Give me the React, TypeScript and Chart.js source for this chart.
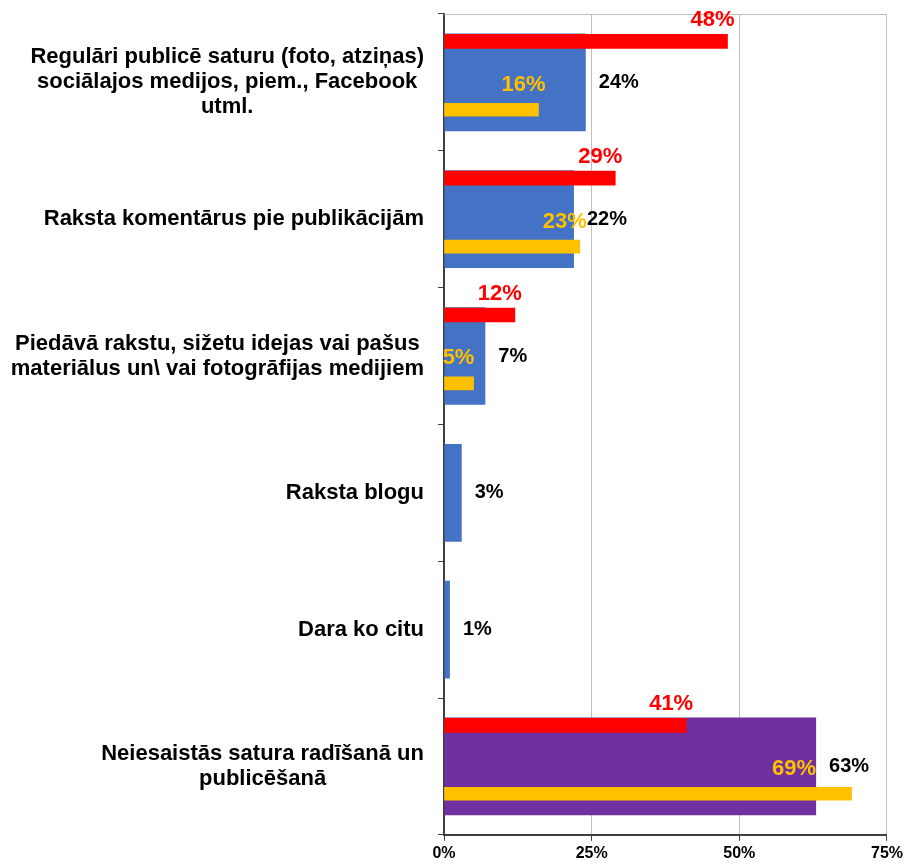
import React, { useEffect, useRef } from "react";
import { Chart, registerables } from "chart.js";

Chart.register(...registerables);

const CATEGORIES: string[][] = [
  ["Regulāri publicē saturu (foto, atziņas)", "sociālajos medijos, piem., Facebook", "utml."],
  ["Raksta komentārus pie publikācijām"],
  ["Piedāvā rakstu, sižetu idejas vai pašus", "materiālus un\\ vai fotogrāfijas medijiem"],
  ["Raksta blogu"],
  ["Dara ko citu "],
  ["Neiesaistās satura radīšanā un", "publicēšanā"],
];
const BLUE_VALUES = [24, 22, 7, 3, 1, 63];
const RED_VALUES: (number | null)[] = [48, 29, 12, null, null, 41];
const YELLOW_VALUES: (number | null)[] = [16, 23, 5, null, null, 69];
const X_TICKS = [0, 25, 50, 75];

const BLUE = "#4472C4";
const PURPLE = "#7030A0";
const RED = "#FF0000";
const YELLOW = "#FFC000";
const RED_OFFSET = -0.3;
const YELLOW_OFFSET = 0.2;
const FONT = "'Liberation Sans', Arial, sans-serif";

export default function App() {
  const ref = useRef<HTMLCanvasElement | null>(null);

  useEffect(() => {
    document.body.style.margin = "0";
    const canvas = ref.current;
    if (!canvas) return;

    const redPts = RED_VALUES.map((v, i) => (v == null ? null : { x: v, y: i + RED_OFFSET, cat: i })).filter(Boolean);
    const yellowPts = YELLOW_VALUES.map((v, i) => (v == null ? null : { x: v, y: i + YELLOW_OFFSET, cat: i })).filter(Boolean);

    const yLabelPlugin = {
      id: "yLabels",
      afterDraw(chart: any) {
        const ctx = chart.ctx;
        const yScale = chart.scales.y;
        const right = chart.chartArea.left - 20;
        ctx.save();
        ctx.font = `bold 22px ${FONT}`;
        ctx.fillStyle = "#000";
        ctx.textAlign = "center";
        ctx.textBaseline = "middle";
        CATEGORIES.forEach((lines, i) => {
          const cy = yScale.getPixelForValue(i);
          const maxW = Math.max(...lines.map((l) => ctx.measureText(l.trimEnd()).width));
          const cx = right - maxW / 2;
          lines.forEach((line, j) => {
            ctx.fillText(line.trimEnd(), cx, cy + (j - (lines.length - 1) / 2) * 25);
          });
        });
        ctx.restore();
      },
    };

    const framePlugin = {
      id: "frame",
      beforeDatasetsDraw(chart: any) {
        const { ctx, chartArea } = chart;
        ctx.save();
        ctx.strokeStyle = "#BFBFBF";
        ctx.lineWidth = 1;
        ctx.beginPath();
        ctx.moveTo(chartArea.left, chartArea.top + 0.5);
        ctx.lineTo(chartArea.right, chartArea.top + 0.5);
        ctx.stroke();
        ctx.restore();
      },
    };

    const valueLabelPlugin = {
      id: "valueLabels",
      afterDatasetsDraw(chart: any) {
        const ctx = chart.ctx;
        ctx.save();
        ctx.textBaseline = "middle";
        const blueMeta = chart.getDatasetMeta(0);
        ctx.font = `bold 20px ${FONT}`;
        ctx.fillStyle = "#000";
        ctx.textAlign = "left";
        blueMeta.data.forEach((el: any, i: number) => {
          ctx.fillText(BLUE_VALUES[i] + "%", el.x + 13, el.y);
        });
        ctx.font = `bold 22px ${FONT}`;
        const redMeta = chart.getDatasetMeta(1);
        ctx.fillStyle = RED;
        ctx.textAlign = "center";
        redMeta.data.forEach((el: any, j: number) => {
          const p: any = chart.data.datasets[1].data[j];
          ctx.fillText(p.x + "%", el.x - 15, el.y - 21);
        });
        const yMeta = chart.getDatasetMeta(2);
        ctx.fillStyle = YELLOW;
        yMeta.data.forEach((el: any, j: number) => {
          const p: any = chart.data.datasets[2].data[j];
          const blueEl = blueMeta.data[p.cat];
          if (p.x > BLUE_VALUES[p.cat] + 3) {
            ctx.textAlign = "right";
            ctx.fillText(p.x + "%", blueEl.x, el.y - 25);
          } else {
            ctx.textAlign = "center";
            ctx.fillText(p.x + "%", el.x - 15, el.y - 25);
          }
        });
        ctx.restore();
      },
    };

    const chart = new Chart(canvas, {
      type: "bar",
      data: {
        labels: CATEGORIES.map((c) => c.join(" ")),
        datasets: [
          {
            label: "blue",
            data: BLUE_VALUES,
            backgroundColor: BLUE_VALUES.map((_, i) => (i === BLUE_VALUES.length - 1 ? PURPLE : BLUE)),
            yAxisID: "y",
            grouped: false,
            categoryPercentage: 1,
            barPercentage: 0.714,
            order: 3,
          } as any,
          {
            label: "red",
            data: redPts as any,
            backgroundColor: RED,
            yAxisID: "y2",
            grouped: false,
            categoryPercentage: 1,
            barPercentage: 1,
            maxBarThickness: 14,
            order: 1,
          } as any,
          {
            label: "yellow",
            data: yellowPts as any,
            backgroundColor: YELLOW,
            yAxisID: "y2",
            grouped: false,
            categoryPercentage: 1,
            barPercentage: 1,
            maxBarThickness: 13,
            order: 2,
          } as any,
        ],
      },
      options: {
        indexAxis: "y",
        responsive: false,
        animation: false,
        layout: { padding: { top: 14, right: 19, left: 0, bottom: 0 } },
        plugins: { legend: { display: false }, tooltip: { enabled: false } },
        scales: {
          x: {
            type: "linear",
            position: "bottom",
            min: 0,
            max: 75,
            afterBuildTicks: (scale: any) => {
              scale.ticks = X_TICKS.map((v) => ({ value: v }));
            },
            ticks: {
              callback: (v: any) => v + "%",
              color: "#000",
              font: { family: FONT, size: 16, weight: "bold" },
              padding: 3,
            },
            grid: { color: "#BFBFBF", tickColor: "#404040", tickLength: 6, lineWidth: 1 },
            border: { color: "#404040", width: 2 },
          },
          y: {
            type: "category",
            position: "left",
            afterFit: (scale: any) => {
              scale.width = 444;
            },
            ticks: { color: "transparent", font: { size: 10 } },
            grid: { drawOnChartArea: false, drawTicks: true, tickLength: 6, color: "#404040", offset: true },
            border: { color: "#404040", width: 2 },
          },
          y2: {
            type: "linear",
            display: false,
            offset: false,
            grid: { offset: false },
            min: -0.5,
            max: 5.5,
            reverse: true,
          },
        },
      } as any,
      plugins: [framePlugin, yLabelPlugin, valueLabelPlugin],
    });
    return () => chart.destroy();
  }, []);

  return (
    <div style={{ width: 906, height: 866 }}>
      <canvas ref={ref} width={906} height={866} />
    </div>
  );
}
